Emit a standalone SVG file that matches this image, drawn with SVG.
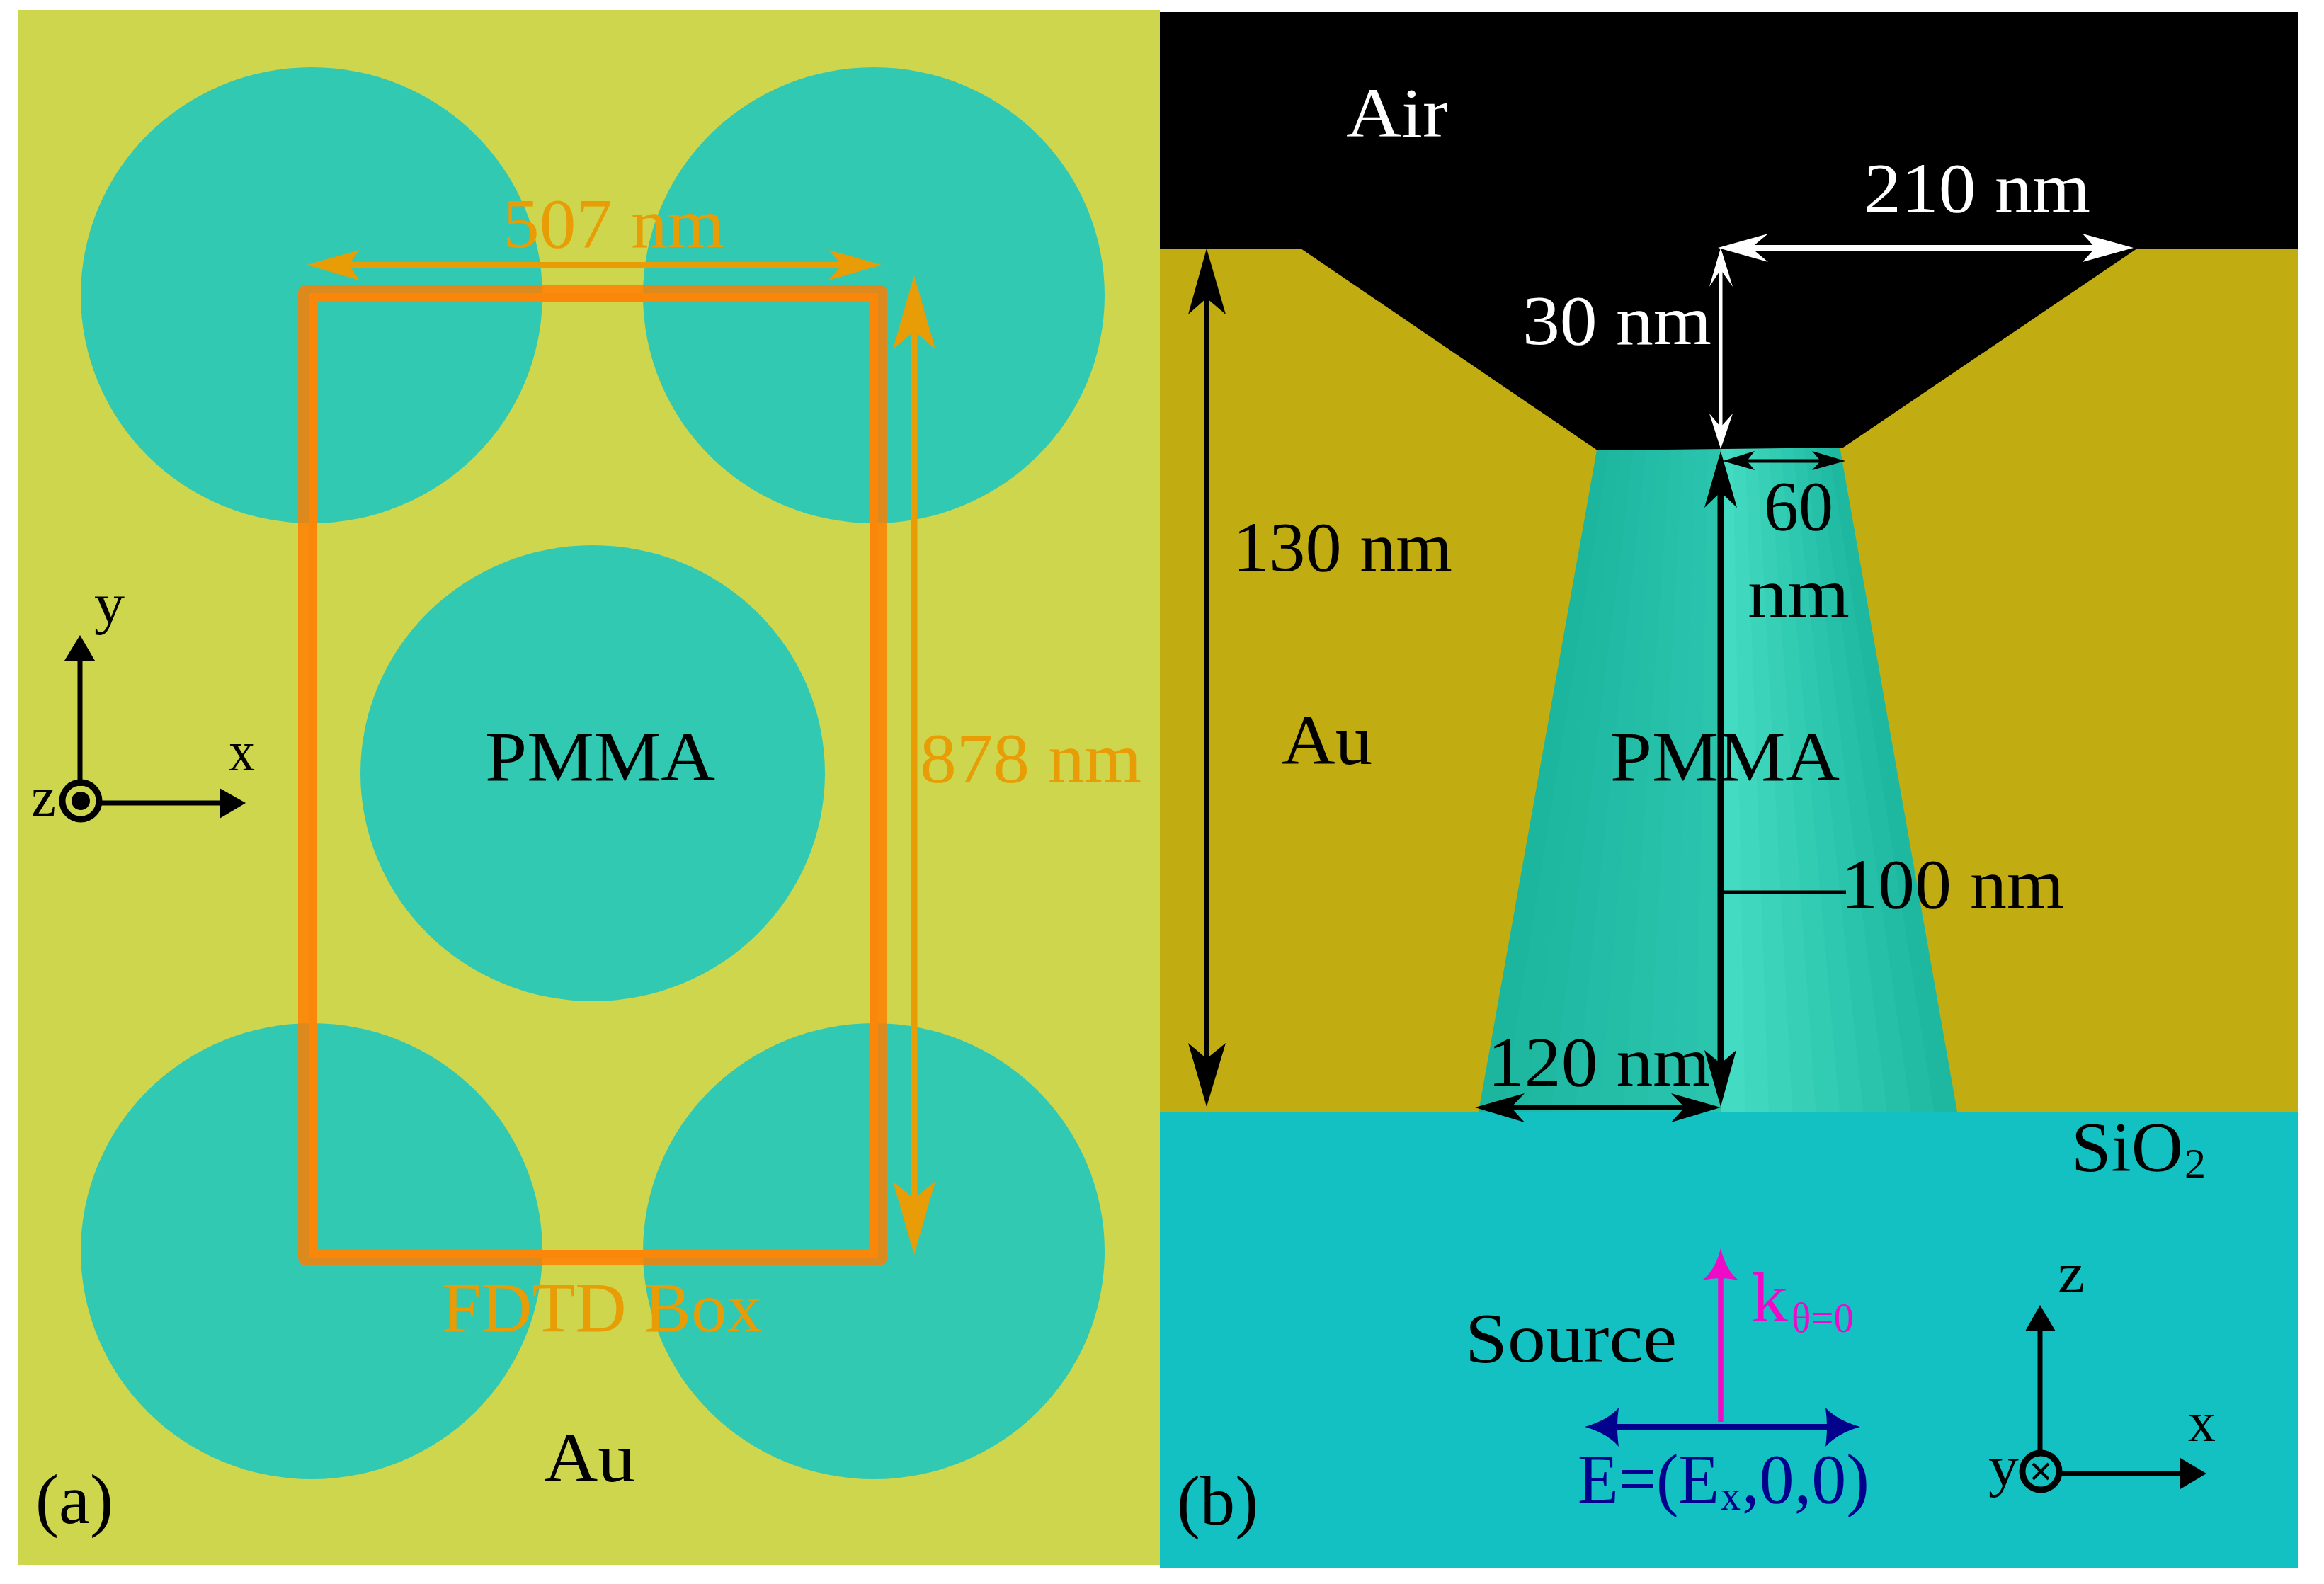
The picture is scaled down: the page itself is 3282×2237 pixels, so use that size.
<svg xmlns="http://www.w3.org/2000/svg" width="3282" height="2237" viewBox="0 0 3282 2237">
<defs>
<style>
text{font-family:"Liberation Serif","Times New Roman",serif;font-size:100px;fill:#000}
.ax{font-size:80px}
.sub{font-size:60px}
.o{fill:#e89c05}
.w{fill:#fff}
.m{fill:#f00ac8}
.n{fill:#02028c}
.hole{fill:#32c9b3}
.k{fill:#000}
.l{stroke:#000;fill:none}
.lo{stroke:#e89c05;fill:none}
.lw{stroke:#fff;fill:none}
</style>
</defs>
<rect width="3282" height="2237" fill="#fff"/>
<g id="panel-a">
<rect x="25" y="14" width="1613" height="2196" fill="#cdd64d"/>
<ellipse class="hole" cx="440" cy="417" rx="326" ry="322"/>
<ellipse class="hole" cx="1234" cy="417" rx="326" ry="322"/>
<ellipse class="hole" cx="837" cy="1092" rx="328" ry="322"/>
<ellipse class="hole" cx="440" cy="1767" rx="326" ry="322"/>
<ellipse class="hole" cx="1234" cy="1767" rx="326" ry="322"/>
</g>
<g id="fdtd-box">
<rect x="429" y="410" width="816" height="1369" rx="3" fill="none" stroke="#ff7d00" stroke-opacity=".83" stroke-width="16"/>
<rect x="442" y="420" width="792" height="1351" fill="none" stroke="#fa860a" stroke-width="12"/>
</g>
<g id="panel-b">
<rect x="1638" y="17" width="1607" height="2198" fill="#14c1c2"/>
<rect x="1638" y="17" width="1607" height="1553" fill="#c1ad12"/>
<g id="pmma-taper">
<polygon points="2256,630 2273.4,630 2122.2,1570 2088,1570" fill="#1cb59e"/>
<polygon points="2272.9,630 2290.8,630 2156.4,1570 2121.2,1570" fill="#1eb7a0"/>
<polygon points="2290.3,630 2308.2,630 2190.6,1570 2155.4,1570" fill="#1fb9a2"/>
<polygon points="2307.7,630 2325.6,630 2224.8,1570 2189.6,1570" fill="#21baa4"/>
<polygon points="2325.1,630 2343,630 2259,1570 2223.8,1570" fill="#23bca6"/>
<polygon points="2342.5,630 2360.4,630 2293.2,1570 2258,1570" fill="#24bea7"/>
<polygon points="2359.9,630 2377.8,630 2327.4,1570 2292.2,1570" fill="#26c0a9"/>
<polygon points="2377.3,630 2395.2,630 2361.6,1570 2326.4,1570" fill="#28c1ab"/>
<polygon points="2394.7,630 2412.6,630 2395.8,1570 2360.6,1570" fill="#29c3ad"/>
<polygon points="2412.1,630 2430,630 2430,1570 2394.8,1570" fill="#2bc5ae"/>
<polygon points="2581.2,630 2598,630 2764,1570 2730.6,1570" fill="#1eb8a0"/>
<polygon points="2564.4,630 2581.7,630 2731.6,1570 2697.2,1570" fill="#22bca4"/>
<polygon points="2547.6,630 2564.9,630 2698.2,1570 2663.8,1570" fill="#26c0a8"/>
<polygon points="2530.8,630 2548.1,630 2664.8,1570 2630.4,1570" fill="#2ac4ac"/>
<polygon points="2514,630 2531.3,630 2631.4,1570 2597,1570" fill="#2ec8b0"/>
<polygon points="2497.2,630 2514.5,630 2598,1570 2563.6,1570" fill="#32ccb3"/>
<polygon points="2480.4,630 2497.7,630 2564.6,1570 2530.2,1570" fill="#37d0b7"/>
<polygon points="2463.6,630 2480.9,630 2531.2,1570 2496.8,1570" fill="#3bd4bb"/>
<polygon points="2446.8,630 2464.1,630 2497.8,1570 2463.4,1570" fill="#3fd8bf"/>
<polygon points="2430,630 2447.3,630 2464.4,1570 2430,1570" fill="#43dcc3"/>
</g>
<polygon id="air" class="k" points="1638,17 3245,17 3245,351 3018,351 2603,632 2256,636 1837,351 1638,351"/>
</g>
<g id="connectors">
<g id="dim-507"><line class="lo" x1="480" y1="374" x2="1200" y2="374" stroke-width="8"/><polygon class="o" points="433,374 508,353 492,374 508,396"/><polygon class="o" points="1245,374 1170,353 1189,374 1170,396"/></g>
<g id="dim-878"><line class="lo" x1="1291" y1="460" x2="1291" y2="1700" stroke-width="9"/><polygon class="o" points="1291,389 1261,493 1291,468 1321,493"/><polygon class="o" points="1291,1772 1261,1668 1291,1693 1321,1668"/></g>
<g id="axes-a"><line class="l" x1="113" y1="925" x2="113" y2="1110" stroke-width="7"/><polygon class="k" points="113,897 91,933 134,933"/><line class="l" x1="144" y1="1134" x2="315" y2="1134" stroke-width="7"/><polygon class="k" points="347,1134 310,1113 310,1156"/><circle class="l" cx="114" cy="1131" r="26" stroke-width="9"/><circle class="k" cx="114" cy="1131" r="13"/></g>
<g id="dim-130"><line class="l" x1="1704" y1="410" x2="1704" y2="1505" stroke-width="7"/><polygon class="k" points="1704,351 1678,444 1704,421 1731,444"/><polygon class="k" points="1704,1563 1678,1473 1704,1495 1731,1473"/></g>
<g id="dim-210"><line class="lw" x1="2465" y1="350" x2="2970" y2="350" stroke-width="8"/><polygon class="w" points="2426,350 2497,330 2473,350 2497,370"/><polygon class="w" points="3013,350 2941,330 2959,350 2941,370"/></g>
<g id="dim-30"><line class="lw" x1="2430" y1="375" x2="2430" y2="610" stroke-width="5"/><polygon class="w" points="2430,350 2414,405 2430,381 2447,405"/><polygon class="w" points="2430,634 2414,584 2430,603 2447,584"/></g>
<g id="dim-60"><line class="l" x1="2460" y1="651" x2="2580" y2="651" stroke-width="5"/><polygon class="k" points="2433,651 2478,637 2467,651 2478,664"/><polygon class="k" points="2606,651 2559,637 2571,651 2559,664"/></g>
<g id="dim-100"><line class="l" x1="2430" y1="680" x2="2430" y2="1520" stroke-width="9"/><polygon class="k" points="2430,637 2407,717 2430,695 2453,717"/><polygon class="k" points="2430,1563 2407,1483 2430,1502 2452,1483"/><line class="l" x1="2434" y1="1260" x2="2607" y2="1260" stroke-width="5"/></g>
<g id="dim-120"><line class="l" x1="2125" y1="1564" x2="2390" y2="1564" stroke-width="8"/><polygon class="k" points="2083,1564 2153,1544 2134,1564 2153,1585"/><polygon class="k" points="2430,1564 2360,1544 2379,1564 2360,1585"/></g>
<g id="k-arrow"><line x1="2430" y1="1800" x2="2430" y2="2008" stroke="#f00ac8" stroke-width="7.5"/><path class="m" d="M2430,1763Q2438,1795 2455,1808Q2440,1805 2430,1805Q2420,1805 2404,1808Q2422,1795 2430,1763Z"/></g>
<g id="e-arrow"><line x1="2280" y1="2015" x2="2585" y2="2015" stroke="#02028c" stroke-width="8"/><path class="n" d="M2238,2015Q2270,2006 2286,1988Q2282,2015 2286,2043Q2270,2024 2238,2015Z"/><path class="n" d="M2627,2015Q2595,2006 2578,1988Q2582,2015 2578,2043Q2595,2024 2627,2015Z"/></g>
<g id="axes-b"><line class="l" x1="2881" y1="1870" x2="2881" y2="2055" stroke-width="7"/><polygon class="k" points="2881,1843 2860,1880 2903,1880"/><line class="l" x1="2912" y1="2081" x2="3085" y2="2081" stroke-width="7"/><polygon class="k" points="3116,2081 3079,2059 3079,2103"/><circle class="l" cx="2882" cy="2078" r="26" stroke-width="9"/><path class="l" d="M2871,2067L2893,2089M2893,2067L2871,2089" stroke-width="4"/></g>
</g>
<g id="labels">
<text class="o" x="710" y="349" textLength="313" lengthAdjust="spacingAndGlyphs">507 nm</text>
<text class="o" x="1299" y="1104" textLength="313" lengthAdjust="spacingAndGlyphs">878 nm</text>
<text class="o" x="624" y="1880" textLength="452" lengthAdjust="spacingAndGlyphs">FDTD Box</text>
<text x="685" y="1102" textLength="325" lengthAdjust="spacingAndGlyphs">PMMA</text>
<text x="768" y="2092" textLength="129" lengthAdjust="spacingAndGlyphs">Au</text>
<text x="50" y="2151" textLength="110" lengthAdjust="spacingAndGlyphs">(a)</text>
<text class="ax" x="133" y="880" textLength="43" lengthAdjust="spacingAndGlyphs">y</text>
<text class="ax" x="323" y="1088" textLength="37" lengthAdjust="spacingAndGlyphs">x</text>
<text class="ax" x="44" y="1152" textLength="35" lengthAdjust="spacingAndGlyphs">z</text>
<text class="w" x="1901" y="193" textLength="144" lengthAdjust="spacingAndGlyphs">Air</text>
<text class="w" x="2632" y="299" textLength="320" lengthAdjust="spacingAndGlyphs">210 nm</text>
<text class="w" x="2150" y="486" textLength="267" lengthAdjust="spacingAndGlyphs">30 nm</text>
<text x="1741" y="806" textLength="310" lengthAdjust="spacingAndGlyphs">130 nm</text>
<text x="1810" y="1079" textLength="128" lengthAdjust="spacingAndGlyphs">Au</text>
<text x="2274" y="1102" textLength="324" lengthAdjust="spacingAndGlyphs">PMMA</text>
<text x="2491" y="748" textLength="98" lengthAdjust="spacingAndGlyphs">60</text>
<text x="2468" y="871" textLength="144" lengthAdjust="spacingAndGlyphs">nm</text>
<text x="2600" y="1282" textLength="315" lengthAdjust="spacingAndGlyphs">100 nm</text>
<text x="2101" y="1533" textLength="314" lengthAdjust="spacingAndGlyphs">120 nm</text>
<text y="1653"><tspan x="2925" textLength="158" lengthAdjust="spacingAndGlyphs">SiO</tspan><tspan class="sub" x="3085" y="1663" textLength="30" lengthAdjust="spacingAndGlyphs">2</tspan></text>
<text x="2069" y="1923" textLength="299" lengthAdjust="spacingAndGlyphs">Source</text>
<text class="m" y="1866"><tspan class="m" x="2473" textLength="52" lengthAdjust="spacingAndGlyphs">k</tspan><tspan class="m sub" x="2530" y="1881" textLength="88" lengthAdjust="spacingAndGlyphs">θ=0</tspan></text>
<text class="n" y="2122"><tspan class="n" x="2228" textLength="200" lengthAdjust="spacingAndGlyphs">E=(E</tspan><tspan class="n sub" x="2430" y="2132" textLength="28" lengthAdjust="spacingAndGlyphs">x</tspan><tspan class="n" x="2460" y="2122" textLength="180" lengthAdjust="spacingAndGlyphs">,0,0)</tspan></text>
<text x="1662" y="2153" textLength="115" lengthAdjust="spacingAndGlyphs">(b)</text>
<text class="ax" x="3090" y="2035" textLength="39" lengthAdjust="spacingAndGlyphs">x</text>
<text class="ax" x="2808" y="2098" textLength="43" lengthAdjust="spacingAndGlyphs">y</text>
<text class="ax" x="2906" y="1825" textLength="38" lengthAdjust="spacingAndGlyphs">z</text>
</g>
</svg>
